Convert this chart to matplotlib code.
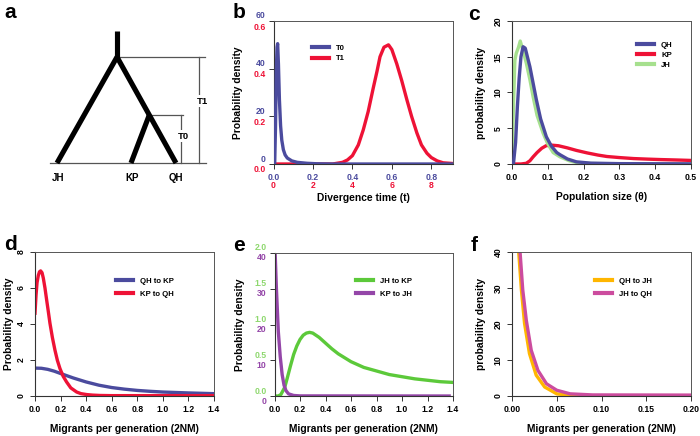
import matplotlib
matplotlib.use("Agg")
import matplotlib.pyplot as plt
from matplotlib.transforms import offset_copy, blended_transform_factory

plt.rcParams['font.family'] = ['Liberation Sans', 'DejaVu Sans']

W, H = 700, 436

# ---------------- data ----------------
# panel b: divergence time
b_t0_x = [0.0, 0.006, 0.010, 0.014, 0.018, 0.021, 0.025, 0.030, 0.036, 0.042, 0.050, 0.059, 0.070, 0.093, 0.12, 0.17, 0.22, 0.30, 0.91]
b_t0_y = [0.0, 0.0, 15.0, 38.0, 49.0, 50.5, 42.0, 27.0, 16.0, 10.0, 6.0, 3.8, 2.5, 1.3, 0.7, 0.3, 0.1, 0.0, 0.0]
b_t1_x = [0.0, 0.30, 0.35, 0.375, 0.40, 0.43, 0.455, 0.48, 0.506, 0.525, 0.54, 0.56, 0.583, 0.60, 0.625, 0.65, 0.676, 0.70, 0.727, 0.75, 0.778, 0.80, 0.83, 0.86, 0.91]
b_t1_y = [0.0, 0.0, 0.007, 0.017, 0.035, 0.08, 0.143, 0.22, 0.32, 0.39, 0.45, 0.49, 0.50, 0.48, 0.42, 0.35, 0.27, 0.20, 0.13, 0.08, 0.045, 0.027, 0.013, 0.005, 0.002]

# panel c: population size
c_qh_x = [0.0, 0.004, 0.010, 0.015, 0.020, 0.025, 0.031, 0.037, 0.050, 0.068, 0.080, 0.096, 0.110, 0.125, 0.134, 0.155, 0.18, 0.22, 0.30, 0.50]
c_qh_y = [0.0, 0.0, 3.0, 8.0, 12.0, 15.0, 16.4, 16.2, 13.6, 9.0, 6.3, 3.8, 2.5, 1.6, 1.3, 0.7, 0.3, 0.12, 0.05, 0.02]
c_kp_x = [0.0, 0.025, 0.040, 0.050, 0.059, 0.070, 0.083, 0.095, 0.108, 0.13, 0.155, 0.18, 0.21, 0.24, 0.265, 0.30, 0.34, 0.38, 0.415, 0.46, 0.50]
c_kp_y = [0.0, 0.0, 0.1, 0.45, 1.0, 1.6, 2.2, 2.55, 2.65, 2.55, 2.25, 1.9, 1.55, 1.25, 1.05, 0.9, 0.76, 0.68, 0.62, 0.56, 0.5]
c_jh_x = [0.0, 0.004, 0.008, 0.012, 0.018, 0.023, 0.030, 0.040, 0.050, 0.059, 0.070, 0.087, 0.100, 0.115, 0.134, 0.16, 0.18, 0.22, 0.30, 0.50]
c_jh_y = [0.5, 8.0, 14.5, 15.5, 16.3, 17.2, 16.0, 14.1, 11.8, 9.4, 6.8, 4.3, 2.8, 1.6, 1.0, 0.45, 0.2, 0.07, 0.02, 0.0]

# panel d: migration QH <-> KP
d_qhkp_x = [0.0, 0.05, 0.10, 0.15, 0.20, 0.30, 0.40, 0.50, 0.60, 0.70, 0.80, 0.90, 1.00, 1.20, 1.40]
d_qhkp_y = [1.55, 1.54, 1.48, 1.38, 1.25, 1.0, 0.78, 0.6, 0.47, 0.38, 0.31, 0.26, 0.22, 0.17, 0.13]
d_kpqh_x = [0.0, 0.008, 0.016, 0.026, 0.035, 0.044, 0.055, 0.065, 0.078, 0.091, 0.104, 0.117, 0.136, 0.156, 0.175, 0.195, 0.22, 0.247, 0.28, 0.326, 0.36, 0.404, 0.45, 0.508, 0.6, 0.8, 1.0, 1.4]
d_kpqh_y = [4.6, 5.6, 6.3, 6.7, 6.9, 6.95, 6.85, 6.55, 6.0, 5.34, 4.7, 4.04, 3.25, 2.55, 1.98, 1.53, 1.1, 0.78, 0.45, 0.22, 0.13, 0.08, 0.05, 0.03, 0.02, 0.02, 0.02, 0.02]

# panel e: migration JH <-> KP
e_jhkp_x = [0.0, 0.03, 0.05, 0.08, 0.10, 0.125, 0.15, 0.175, 0.20, 0.225, 0.25, 0.275, 0.30, 0.35, 0.40, 0.45, 0.50, 0.60, 0.70, 0.80, 0.90, 1.00, 1.10, 1.20, 1.30, 1.40]
e_jhkp_y = [0.0, 0.0, 0.02, 0.12, 0.25, 0.42, 0.58, 0.70, 0.79, 0.85, 0.88, 0.89, 0.88, 0.82, 0.74, 0.66, 0.59, 0.48, 0.40, 0.35, 0.30, 0.27, 0.24, 0.22, 0.20, 0.19]
e_kpjh_x = [0.0, 0.005, 0.015, 0.030, 0.045, 0.060, 0.075, 0.090, 0.110, 0.150, 0.200, 1.37]
e_kpjh_y = [46.0, 40.0, 30.0, 18.0, 11.0, 6.0, 3.0, 1.5, 0.6, 0.15, 0.03, 0.0]

# panel f: migration QH <-> JH
f_qhjh_x = [0.006, 0.0075, 0.0105, 0.014, 0.0195, 0.027, 0.0365, 0.050, 0.065, 0.08, 0.20]
f_qhjh_y = [44.0, 40.0, 29.5, 20.2, 11.8, 5.8, 2.5, 0.6, 0.15, 0.1, 0.1]
f_jhqh_x = [0.0075, 0.009, 0.012, 0.016, 0.0215, 0.029, 0.0385, 0.050, 0.065, 0.090, 0.20]
f_jhqh_y = [44.0, 40.0, 29.5, 21.0, 12.7, 7.1, 3.4, 1.6, 0.6, 0.3, 0.25]

# tree (panel a)
leaf_names = ['JH', 'KP', 'QH']

BLUE = '#4B4B9E'
RED = '#EE1236'
LGREEN = '#A6E08E'
GREEN = '#5CC93A'
PURPLE = '#9446A8'
ORANGE = '#FFB600'
MAGENTA = '#CC4C9E'

fig = plt.figure(figsize=(W / 100, H / 100), dpi=100)


def pax(l, t, r, b):
    ax = fig.add_axes([l / W, 1 - b / H, (r - l) / W, (b - t) / H])
    ax._px = (l, r)
    return ax


TICK_FS = 6.2
LAB_FS = 7.4
LEG_FS = 5.6
LW = 2.4


def style(ax, rot=False):
    for s in ['left', 'bottom']:
        ax.spines[s].set_color('#333333')
        ax.spines[s].set_linewidth(0.8)
    for s in ['top', 'right']:
        ax.spines[s].set_color('#555555')
        ax.spines[s].set_linewidth(0.7)
    ax.tick_params(direction='out', length=3.5, width=0.7, color='#333333',
                   labelsize=TICK_FS, pad=3)
    for lab in ax.get_xticklabels() + ax.get_yticklabels():
        lab.set_fontweight('bold')
    if rot:
        for lab in ax.get_yticklabels():
            lab.set_rotation(90)
            lab.set_va('center')


def ylab(ax, text, x_px):
    ax.set_ylabel(text, fontsize=LAB_FS, fontweight='bold')
    l, r = ax._px
    ax.yaxis.set_label_coords((x_px - l) / (r - l), 0.5)
    ax.yaxis.label.set_va('center')


def leg(ax, handles, labels, x, y_center, row):
    fs_px = LEG_FS * 100 / 72
    txt_h = fs_px * 1.15
    spacing = max(row - txt_h, 0) / fs_px
    L = ax.legend(handles, labels, loc='upper left',
                  bbox_to_anchor=(x / W, 1 - (y_center - txt_h / 2) / H),
                  bbox_transform=fig.transFigure, frameon=False,
                  prop={'size': LEG_FS, 'weight': 'bold'}, handlelength=2.2,
                  handletextpad=0.9, borderpad=0, borderaxespad=0,
                  labelspacing=spacing)
    for h in L.get_lines():
        h.set_linewidth(3)


def panel_letter(x, y, s):
    fig.text(x / W, 1 - y / H, s, fontsize=15, fontweight='bold',
             ha='left', va='center')


# ---------------- panel a ----------------
axa = pax(40, 20, 225, 195)
axa.set_xlim(40, 225)
axa.set_ylim(195, 20)
axa.axis('off')
root_x, root_top, root_y = 117, 31, 57
leaf_y = 163
jh_x, kp_x, qh_x = 57, 131, 176
node_y = 115
node_x = root_x + (qh_x - root_x) * (node_y - root_y) / (leaf_y - root_y)
tk = dict(color='black', lw=3.7, solid_capstyle='butt')
thin = dict(color='#555555', lw=0.9)
axa.plot([50, 206], [leaf_y + 0.5, leaf_y + 0.5], **thin)
axa.plot([root_x, 205], [root_y, root_y], **thin)
axa.plot([199, 199], [root_y, leaf_y], **thin)
axa.plot([node_x, 183], [node_y, node_y], **thin)
axa.plot([181, 181], [node_y, leaf_y], **thin)
axa.plot([root_x, root_x], [root_top, root_y + 2], **tk)
axa.plot([root_x, jh_x], [root_y, leaf_y], **tk)
axa.plot([root_x, qh_x], [root_y, leaf_y], **tk)
axa.plot([node_x, kp_x], [node_y, leaf_y], **tk)
axa.text(202, 101, 'T1', fontsize=6.8, fontweight='bold', ha='center', va='center',
         bbox=dict(fc='white', ec='none', pad=1))
axa.text(183, 136, 'T0', fontsize=6.8, fontweight='bold', ha='center', va='center',
         bbox=dict(fc='white', ec='none', pad=1))
for nm, x in zip(leaf_names, [jh_x + 1, kp_x + 1, qh_x]):
    axa.text(x, 178, nm, fontsize=7, fontweight='bold', ha='center', va='center')

# ---------------- panel b ----------------
axb = pax(273.5, 21, 453, 164)
l1, = axb.plot(b_t1_x, [v * 100 for v in b_t1_y], color=RED, lw=LW, zorder=2)
l0, = axb.plot(b_t0_x, b_t0_y, color=BLUE, lw=LW, zorder=3)
axb.set_xlim(0, 0.91)
axb.set_ylim(0, 60)
bx = [0, 0.2, 0.4, 0.6, 0.8]
by = [0, 20, 40, 60]
axb.set_xticks(bx)
axb.set_xticklabels(['0.0', '0.2', '0.4', '0.6', '0.8'])
axb.set_yticks(by)
axb.set_yticklabels([])
style(axb)
for lab in axb.get_xticklabels():
    lab.set_color(BLUE)
tr = blended_transform_factory(axb.transAxes, axb.transData)
for v in by:
    axb.text(-0.045, v, str(v), transform=offset_copy(tr, fig=fig, x=0, y=5, units='dots'),
             color=BLUE, fontsize=TICK_FS, fontweight='bold', ha='right', va='center')
    axb.text(-0.045, v, '%.1f' % (v / 100), transform=offset_copy(tr, fig=fig, x=0, y=-6, units='dots'),
             color=RED, fontsize=TICK_FS, fontweight='bold', ha='right', va='center')
trx = blended_transform_factory(axb.transData, axb.transAxes)
for v in bx:
    axb.text(v, 0, str(int(round(v * 10))), transform=offset_copy(trx, fig=fig, x=0, y=-21, units='dots'),
             color=RED, fontsize=TICK_FS, fontweight='bold', ha='center', va='center')
axb.set_xlabel('Divergence time (t)', fontsize=LAB_FS, fontweight='bold', labelpad=8)
ylab(axb, 'Probability density', 238)
leg(axb, [l0, l1], ['T0', 'T1'], 312, 49, 12)

# ---------------- panel c ----------------
axc = pax(512, 21, 691, 164)
lk, = axc.plot(c_kp_x, c_kp_y, color=RED, lw=LW, zorder=2)
lq, = axc.plot(c_qh_x, c_qh_y, color=BLUE, lw=LW, zorder=3)
lj, = axc.plot(c_jh_x, c_jh_y, color=LGREEN, lw=LW, zorder=2.5)
axc.set_xlim(0, 0.5)
axc.set_ylim(0, 20)
axc.set_xticks([0, 0.1, 0.2, 0.3, 0.4, 0.5])
axc.set_xticklabels(['0.0', '0.1', '0.2', '0.3', '0.4', '0.5'])
axc.set_yticks([0, 5, 10, 15, 20])
style(axc, rot=True)
axc.set_xlabel('Population size (θ)', fontsize=LAB_FS, fontweight='bold', labelpad=7)
ylab(axc, 'probability density', 481)
leg(axc, [lq, lk, lj], ['QH', 'KP', 'JH'], 637, 45.7, 11.5)

# ---------------- panel d ----------------
axd = pax(35, 252, 214, 396)
la, = axd.plot(d_qhkp_x, d_qhkp_y, color=BLUE, lw=LW)
lb, = axd.plot(d_kpqh_x, d_kpqh_y, color=RED, lw=LW)
axd.set_xlim(0, 1.4)
axd.set_ylim(0, 8)
axd.set_xticks([0, 0.2, 0.4, 0.6, 0.8, 1.0, 1.2, 1.4])
axd.set_xticklabels(['0.0', '0.2', '0.4', '0.6', '0.8', '1.0', '1.2', '1.4'])
axd.set_yticks([0, 2, 4, 6, 8])
style(axd, rot=True)
axd.set_xlabel('Migrants per generation (2NM)', fontsize=LAB_FS, fontweight='bold', labelpad=7)
ylab(axd, 'Probability density', 9)
leg(axd, [la, lb], ['QH to KP', 'KP to QH'], 116, 281.7, 15)

# ---------------- panel e ----------------
axe = pax(274.5, 253, 453, 396)
lg, = axe.plot(e_jhkp_x, [v * 20 for v in e_jhkp_y], color=GREEN, lw=LW)
lp, = axe.plot(e_kpjh_x, e_kpjh_y, color=PURPLE, lw=LW)
axe.set_xlim(0, 1.4)
axe.set_ylim(0, 40)
axe.set_xticks([0, 0.2, 0.4, 0.6, 0.8, 1.0, 1.2, 1.4])
axe.set_xticklabels(['0.0', '0.2', '0.4', '0.6', '0.8', '1.0', '1.2', '1.4'])
ey = [0, 10, 20, 30, 40]
axe.set_yticks(ey)
axe.set_yticklabels([])
style(axe)
tr = blended_transform_factory(axe.transAxes, axe.transData)
for v in ey:
    axe.text(-0.045, v, '%.1f' % (v / 20), transform=offset_copy(tr, fig=fig, x=0, y=5, units='dots'),
             color='#8ED86E', fontsize=TICK_FS, fontweight='bold', ha='right', va='center')
    axe.text(-0.045, v, str(v), transform=offset_copy(tr, fig=fig, x=0, y=-5, units='dots'),
             color=PURPLE, fontsize=TICK_FS, fontweight='bold', ha='right', va='center')
axe.set_xlabel('Migrants per generation (2NM)', fontsize=LAB_FS, fontweight='bold', labelpad=7)
ylab(axe, 'Probability density', 240)
leg(axe, [lg, lp], ['JH to KP', 'KP to JH'], 356, 282, 14.5)

# ---------------- panel f ----------------
axf = pax(512, 252, 691, 396)
lo, = axf.plot(f_qhjh_x, f_qhjh_y, color=ORANGE, lw=LW)
lm, = axf.plot(f_jhqh_x, f_jhqh_y, color=MAGENTA, lw=LW)
axf.set_xlim(0, 0.2)
axf.set_ylim(0, 40)
axf.set_xticks([0, 0.05, 0.1, 0.15, 0.2])
axf.set_xticklabels(['0.00', '0.05', '0.10', '0.15', '0.20'])
axf.set_yticks([0, 10, 20, 30, 40])
style(axf, rot=True)
axf.set_xlabel('Migrants per generation (2NM)', fontsize=LAB_FS, fontweight='bold', labelpad=7)
ylab(axf, 'probability density', 481)
leg(axf, [lo, lm], ['QH to JH', 'JH to QH'], 595, 281.7, 15)

panel_letter(4, 12, 'a')
panel_letter(233, 12, 'b')
panel_letter(468, 14, 'c')
panel_letter(4, 244, 'd')
panel_letter(233, 245, 'e')
panel_letter(471, 245, 'f')

fig.savefig('out.png', dpi=100)
